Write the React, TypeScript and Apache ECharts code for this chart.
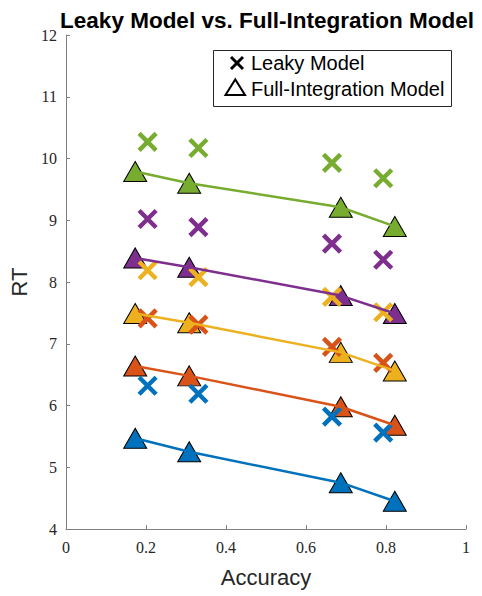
import React, { useEffect, useRef } from "react";
import * as echarts from "echarts";

// Accuracy positions of the model predictions
const triangleX = [0.173, 0.308, 0.687, 0.822];
const crossX = [0.204, 0.331, 0.665, 0.793];

// Full-integration model RTs (triangles + connecting lines), one row per condition
const fullBlue = [5.47, 5.25, 4.75, 4.45];
const fullOrange = [6.64, 6.48, 5.98, 5.68];
const fullYellow = [7.49, 7.34, 6.86, 6.56];
const fullPurple = [8.39, 8.24, 7.78, 7.49];
const fullGreen = [9.79, 9.6, 9.21, 8.9];

// Leaky model RTs (crosses)
const leakyBlue = [6.32, 6.19, 5.82, 5.56];
const leakyOrange = [7.41, 7.31, 6.95, 6.69];
const leakyYellow = [8.19, 8.08, 7.76, 7.51];
const leakyPurple = [9.02, 8.89, 8.62, 8.36];
const leakyGreen = [10.27, 10.17, 9.93, 9.68];

const colors = ["#0072BD", "#D95319", "#EDB120", "#7E2F8E", "#77AC30"];
const fullSets = [fullBlue, fullOrange, fullYellow, fullPurple, fullGreen];
const leakySets = [leakyBlue, leakyOrange, leakyYellow, leakyPurple, leakyGreen];

const titleText = "Leaky Model vs. Full-Integration Model";
const legendLabels = ["Leaky Model", "Full-Integration Model"];

const CROSS = "path://M0,0L10,10M10,0L0,10";

function pairs(xs: number[], ys: number[]) {
  return xs.map((x, i) => [x, ys[i]]);
}

export default function App() {
  const ref = useRef<HTMLDivElement>(null);

  useEffect(() => {
    if (!ref.current) return;
    const chart = echarts.init(ref.current, null, { renderer: "svg" });

    const triangles = fullSets.map((ys, i) => ({
      type: "scatter",
      data: pairs(triangleX, ys),
      symbol: "triangle",
      symbolSize: [23, 20],
      itemStyle: { color: colors[i], borderColor: "#000", borderWidth: 1, opacity: 1 },
      z: 2,
    }));
    const crosses = leakySets.map((ys, i) => ({
      type: "scatter",
      data: pairs(crossX, ys),
      symbol: CROSS,
      symbolSize: 17,
      itemStyle: { color: "none", borderColor: colors[i], borderWidth: 4.5, opacity: 1 },
      z: 3,
    }));
    const lines = fullSets.map((ys, i) => ({
      type: "line",
      data: pairs(triangleX, ys),
      showSymbol: false,
      symbol: "none",
      lineStyle: { color: colors[i], width: 2.5 },
      z: 4,
    }));

    const axisText = { color: "#262626", fontFamily: "Liberation Serif", fontSize: 16, lineHeight: 14 };

    chart.setOption({
      animation: false,
      grid: { left: 66, right: 16, top: 35, bottom: 67, containLabel: false },
      xAxis: {
        type: "value",
        min: 0,
        max: 1,
        interval: 0.2,
        name: "Accuracy",
        nameLocation: "middle",
        nameGap: 37,
        nameTextStyle: { color: "#262626", fontFamily: "Liberation Sans", fontSize: 22 },
        axisLine: { lineStyle: { color: "#808080", width: 1 } },
        axisTick: { inside: true, length: 4, lineStyle: { color: "#808080" } },
        axisLabel: { ...axisText, margin: 11, formatter: (v: number) => String(Math.round(v * 10) / 10) },
        splitLine: { show: false },
      },
      yAxis: {
        type: "value",
        min: 4,
        max: 12,
        interval: 1,
        name: "RT",
        nameLocation: "middle",
        nameGap: 35,
        nameTextStyle: { color: "#262626", fontFamily: "Liberation Sans", fontSize: 22 },
        axisLine: { show: true, lineStyle: { color: "#808080", width: 1 } },
        axisTick: { show: true, inside: true, length: 4, lineStyle: { color: "#808080" } },
        axisLabel: { ...axisText, margin: 9 },
        splitLine: { show: false },
      },
      series: [...triangles, ...crosses, ...lines],
      graphic: [
        {
          type: "text",
          x: 267,
          y: 20,
          style: {
            text: titleText,
            fill: "#000",
            font: "bold 22.5px 'Liberation Sans'",
            lineHeight: 14,
            textAlign: "center",
            textVerticalAlign: "middle",
          },
        },
        {
          type: "rect",
          shape: { x: 213.5, y: 50.5, width: 238, height: 56 },
          style: { fill: "#fff", stroke: "#262626", lineWidth: 1 },
          z: 10,
        },
        {
          type: "line",
          shape: { x1: 231, y1: 57, x2: 243, y2: 69 },
          style: { stroke: "#000", lineWidth: 3 },
          z: 11,
        },
        {
          type: "line",
          shape: { x1: 243, y1: 57, x2: 231, y2: 69 },
          style: { stroke: "#000", lineWidth: 3 },
          z: 11,
        },
        {
          type: "polygon",
          shape: { points: [[225.5, 95], [245, 95], [235.3, 79.5]] },
          style: { fill: "none", stroke: "#000", lineWidth: 2 },
          z: 11,
        },
        {
          type: "text",
          x: 251,
          y: 63,
          style: {
            text: legendLabels[0],
            fill: "#000",
            font: "20px 'Liberation Sans'",
            textAlign: "left",
            textVerticalAlign: "middle",
          },
          z: 11,
        },
        {
          type: "text",
          x: 251,
          y: 89,
          style: {
            text: legendLabels[1],
            fill: "#000",
            font: "20px 'Liberation Sans'",
            textAlign: "left",
            textVerticalAlign: "middle",
          },
          z: 11,
        },
      ],
    });

    return () => chart.dispose();
  }, []);

  return (
    <div
      ref={ref}
      style={{ position: "absolute", left: 0, top: 0, width: 482, height: 596, background: "#fff" }}
    />
  );
}
